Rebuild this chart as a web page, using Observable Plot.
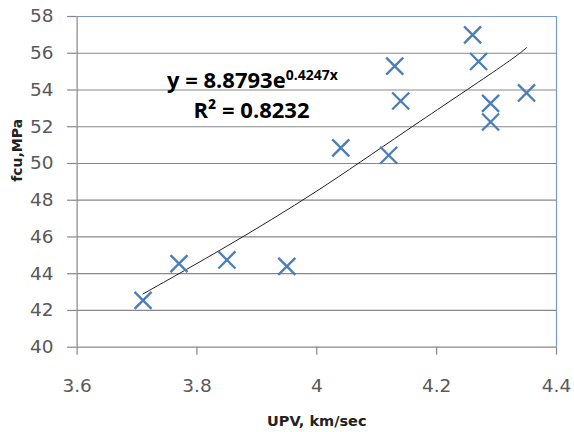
<!DOCTYPE html>
<html>
<head>
<meta charset="utf-8">
<script src="https://cdn.jsdelivr.net/npm/d3@7"></script>
<script src="https://cdn.jsdelivr.net/npm/@observablehq/plot@0.6"></script>
<style>
  html, body { margin: 0; padding: 0; background: #fff; }
  #chart svg { display: block; }
</style>
</head>
<body>
<div id="chart"></div>
<script>
// Measured points (UPV km/sec, fcu MPa)
const upv = [3.71, 3.77, 3.85, 3.95, 4.04, 4.12, 4.13, 4.14, 4.26, 4.27, 4.29, 4.29, 4.35];
const fcu = [42.55, 44.55, 44.75, 44.4, 50.85, 50.45, 55.3, 53.4, 57.0, 55.55, 53.27, 52.26, 53.84];

// Trend line
const trendX = [3.71, 3.85, 4.0, 4.15, 4.30, 4.35];
const trendY = [42.9, 45.5, 48.5, 51.8, 55.1, 56.3];

// Tick labels
const xTicks = [3.6, 3.8, 4.0, 4.2, 4.4];
const yTicks = [40, 42, 44, 46, 48, 50, 52, 54, 56, 58];

// Annotation text
const eqMain = "y = 8.8793e";
const eqSup = "0.4247x";
const r2Text = "R² = 0.8232";
const xTitle = "UPV, km/sec";
const yTitle = "fcu,MPa";

const points = upv.map((x, i) => ({x, y: fcu[i]}));
const trend = trendX.map((x, i) => ({x, y: trendY[i]}));

const tickFont = "'DejaVu Sans', sans-serif";
const eqFont = "'Open Sans', sans-serif";
const gridColor = "#878787";
const borderBlue = "#7a9bd0";
const marker = "#4a7ebb";

const chart = Plot.plot({
  width: 574,
  height: 432,
  marginLeft: 76.6,
  marginRight: 18,
  marginTop: 16,
  marginBottom: 85.3,
  style: {fontFamily: tickFont, background: "#fff"},
  x: {domain: [3.6, 4.4]},
  y: {domain: [40, 58]},
  marks: [
    Plot.gridY(yTicks.filter(d => d > 40 && d < 58), {stroke: gridColor, strokeOpacity: 1, strokeWidth: 1.2}),
    Plot.ruleY([58], {stroke: borderBlue, strokeWidth: 1.2}),
    Plot.ruleX([4.4], {stroke: borderBlue, strokeWidth: 1.2}),
    Plot.ruleX([3.6], {stroke: gridColor, strokeWidth: 1.2}),
    Plot.ruleY([40], {stroke: gridColor, strokeWidth: 1.2}),
    Plot.axisY({
      ticks: yTicks, tickSize: 9.5, tickPadding: 14, stroke: gridColor, strokeWidth: 1.2,
      fontSize: 18.5, color: "#595959", label: null, tickFormat: d => String(d)
    }),
    Plot.axisX({
      ticks: xTicks, tickSize: 8, tickPadding: 23.5, stroke: gridColor, strokeWidth: 1.2,
      fontSize: 18.5, color: "#595959", label: null, tickFormat: d => String(+d.toFixed(1))
    }),
    Plot.line(trend, {x: "x", y: "y", stroke: "#222", strokeWidth: 1, curve: "natural"}),
    Plot.dot(points, {x: "x", y: "y", symbol: "times", r: 7.8, stroke: marker, strokeWidth: 2.3}),
    Plot.text([eqMain], {x: 3.948, y: 54.1, text: d => d, textAnchor: "end", lineAnchor: "bottom",
      fontSize: 22, fontWeight: "bold", fill: "#000", fontFamily: eqFont}),
    Plot.text([eqSup], {x: 3.948, y: 54.1, text: d => d, textAnchor: "start", lineAnchor: "bottom", dy: -8,
      fontSize: 14, fontWeight: "bold", fill: "#000", fontFamily: eqFont}),
    Plot.text([r2Text], {x: 3.891, y: 52.45, text: d => d, textAnchor: "middle", lineAnchor: "bottom",
      fontSize: 22, fontWeight: "bold", fill: "#000", fontFamily: eqFont}),
    Plot.text([xTitle], {x: 4.0, y: 40, text: d => d, dy: 74, lineAnchor: "middle",
      fontSize: 14.5, fontWeight: "bold", fill: "#222"}),
    Plot.text([yTitle], {frameAnchor: "left", dx: -60, rotate: -90, text: d => d,
      fontSize: 14, fontWeight: "bold", fill: "#222"})
  ]
});
document.getElementById("chart").appendChild(chart);
</script>
</body>
</html>
